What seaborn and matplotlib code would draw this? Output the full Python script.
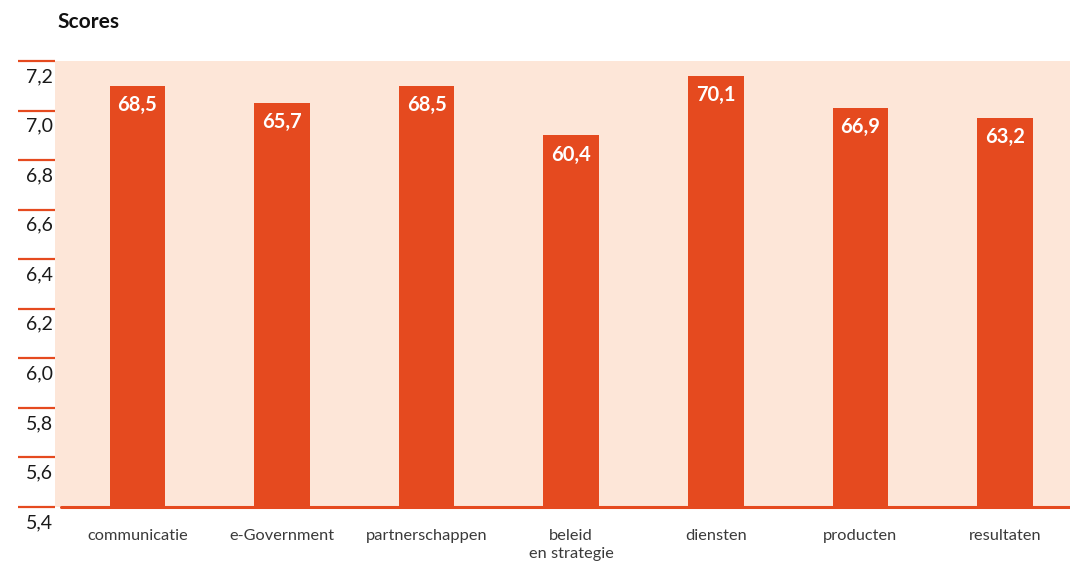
import matplotlib
matplotlib.use("Agg")
import matplotlib.pyplot as plt
import matplotlib.transforms as mtrans
import seaborn as sns
import pandas as pd

categories = ["communicatie", "e-Government", "partnerschappen", "beleid\nen strategie",
              "diensten", "producten", "resultaten"]
scores = [7.10, 7.03, 7.10, 6.90, 7.14, 7.01, 6.97]
value_labels = ["68,5", "65,7", "68,5", "60,4", "70,1", "66,9", "63,2"]
ytick_values = [5.4, 5.6, 5.8, 6.0, 6.2, 6.4, 6.6, 6.8, 7.0, 7.2]
ytick_labels = ["5,4", "5,6", "5,8", "6,0", "6,2", "6,4", "6,6", "6,8", "7,0", "7,2"]

BAR = "#e54a1f"
BG = "#fde6d8"

sns.set_theme(style="white")
plt.rcParams["font.family"] = ["Lato", "DejaVu Sans"]

df = pd.DataFrame({"categorie": categories, "score": scores})

fig = plt.figure(figsize=(10.7, 5.68), dpi=100)
ax = fig.add_axes([55 / 1070, (568 - 507) / 568, 1 - 55 / 1070, (507 - 61) / 568])
ax.set_facecolor(BG)

sns.barplot(data=df, x="categorie", y="score", color=BAR, saturation=1,
            width=0.385, ax=ax, edgecolor="none")

ax.set_ylim(5.4, 7.2)
ax.set_xlim(-0.57, 6.45)
for s in ax.spines.values():
    s.set_visible(False)

# y ticks: red lines to the left of the plot area, labels below each line
ax.set_yticks(ytick_values)
ax.set_yticklabels([])
ax.tick_params(axis="y", which="major", left=True, length=37 * 72 / 100,
               width=1.6, color=BAR, direction="out", pad=0)
trans = mtrans.blended_transform_factory(ax.transAxes, ax.transData) + \
    mtrans.ScaledTranslation(-2 / 100, -7 / 100, fig.dpi_scale_trans)
for v, lab in zip(ytick_values, ytick_labels):
    ax.text(0, v, lab, transform=trans, ha="right", va="top",
            fontsize=14, color="#1a1a1a")

# baseline
ax.axhline(5.4, xmin=6 / 1015, xmax=1, color=BAR, lw=2.2, clip_on=False, zorder=5)

# x tick labels
ax.set_xlabel("")
ax.set_ylabel("")
ax.tick_params(axis="x", bottom=False, pad=10, labelsize=11.8, labelcolor="#3a3a3a")
for t in ax.get_xticklabels():
    t.set_va("top")
    t.set_linespacing(1.3)

# value labels inside bars
ax.bar_label(ax.containers[0], labels=value_labels, padding=-21,
             color="white", fontsize=14.5, fontweight="bold")

fig.text(57 / 1070, 1 - 22 / 568, "Scores", fontsize=15, fontweight="bold",
         ha="left", va="center", color="#111111")

fig.savefig("out.png", dpi=100)
